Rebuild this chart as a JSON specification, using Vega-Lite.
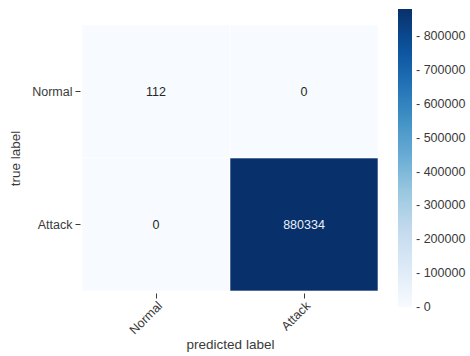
{
  "$schema": "https://vega.github.io/schema/vega-lite/v6.json",
  "width": 296,
  "height": 266,
  "autosize": {"type": "none"},
  "padding": {"left": 82, "top": 25, "right": 92, "bottom": 65},
  "background": "white",
  "data": {
    "values": [
      {"true_label": "Normal", "predicted_label": "Normal", "count": 112},
      {"true_label": "Normal", "predicted_label": "Attack", "count": 0},
      {"true_label": "Attack", "predicted_label": "Normal", "count": 0},
      {"true_label": "Attack", "predicted_label": "Attack", "count": 880334}
    ]
  },
  "encoding": {
    "x": {
      "field": "predicted_label",
      "type": "nominal",
      "sort": ["Normal", "Attack"],
      "scale": {"paddingInner": 0, "paddingOuter": 0},
      "axis": {
        "title": "predicted label",
        "labelAngle": -45,
        "labelAlign": "right",
        "labelBaseline": "top",
        "labelPadding": 1,
        "tickSize": 5,
        "offset": 2,
        "titleBaseline": "alphabetic",
        "titleY": 55
      }
    },
    "y": {
      "field": "true_label",
      "type": "nominal",
      "sort": ["Normal", "Attack"],
      "scale": {"paddingInner": 0, "paddingOuter": 0},
      "axis": {
        "title": "true label",
        "labelAngle": 0,
        "labelPadding": 3,
        "tickSize": 5,
        "offset": 2,
        "titlePadding": 9
      }
    }
  },
  "layer": [
    {
      "mark": {"type": "rect", "stroke": "white", "strokeWidth": 0.6},
      "encoding": {
        "color": {
          "field": "count",
          "type": "quantitative",
          "scale": {
            "zero": true,
            "nice": false,
            "range": ["#f7fbff", "#deebf7", "#c6dbef", "#9ecae1", "#6baed6", "#4292c6", "#2171b5", "#08519c", "#08306b"]
          },
          "legend": {
            "title": null,
            "orient": "none",
            "direction": "vertical",
            "legendX": 316,
            "legendY": -16,
            "gradientLength": 298,
            "gradientThickness": 14,
            "gradientStrokeWidth": 0,
            "values": [0, 100000, 200000, 300000, 400000, 500000, 600000, 700000, 800000],
            "format": "d",
            "labelExpr": "'- ' + datum.label",
            "labelOverlap": false,
            "labelBaseline": "middle",
            "labelOffset": 4,
            "labelFontSize": 12.5,
            "labelColor": "#3a3a3a",
            "labelFont": "Liberation Sans",
            "encode": {
              "labels": {"update": {"baseline": {"value": "middle"}}}
            }
          }
        }
      }
    },
    {
      "mark": {"type": "text", "fontSize": 12.5, "font": "Liberation Sans"},
      "encoding": {
        "text": {"field": "count", "type": "quantitative", "format": "d"},
        "color": {
          "condition": {"test": "datum.count > 440000", "value": "#e8f0fa"},
          "value": "#262626"
        }
      }
    }
  ],
  "config": {
    "view": {"stroke": null},
    "axis": {
      "domain": false,
      "grid": false,
      "tickColor": "#3a3a3a",
      "tickWidth": 1,
      "labelColor": "#3a3a3a",
      "labelFont": "Liberation Sans",
      "labelFontSize": 12.5,
      "titleColor": "#3a3a3a",
      "titleFont": "Liberation Sans",
      "titleFontSize": 13.5,
      "titleFontWeight": "normal"
    }
  }
}
